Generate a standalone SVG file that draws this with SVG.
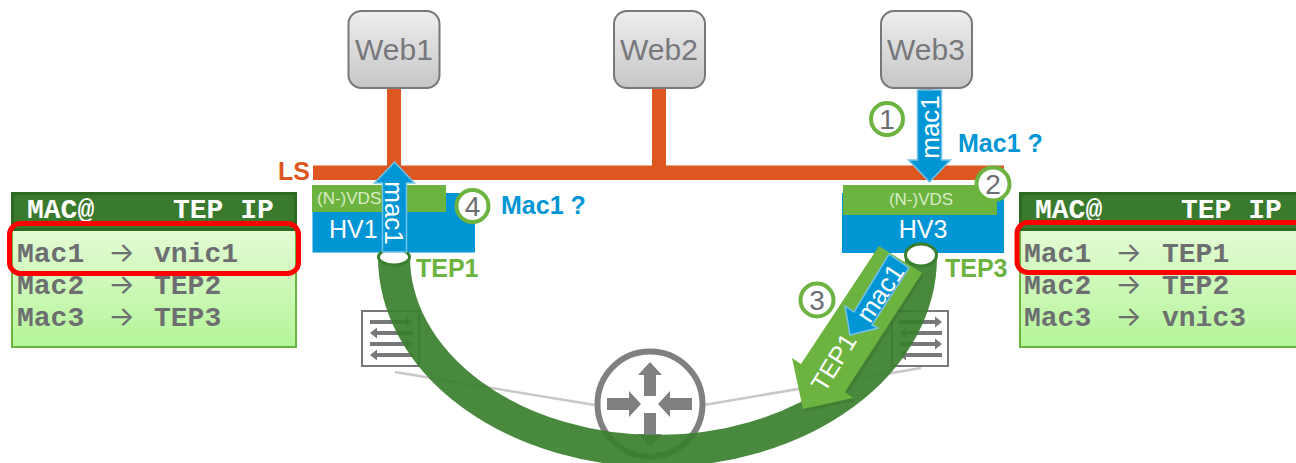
<svg xmlns="http://www.w3.org/2000/svg" width="1296" height="463" viewBox="0 0 1296 463">
<defs>
<linearGradient id="webG" x1="0" y1="0" x2="0" y2="1"><stop offset="0" stop-color="#eeeeee"/><stop offset="1" stop-color="#c6c6c8"/></linearGradient>
<linearGradient id="tblG" x1="0" y1="0" x2="0" y2="1"><stop offset="0" stop-color="#e6fbd8"/><stop offset="1" stop-color="#b4f598"/></linearGradient>
<g id="swGlyph" fill="#77787b">
<path d="M0 0h36v-3.500l7 5.500-7 5.500v-3.500H0z" transform="translate(0,320)"/>
<path d="M43 0H7v-3.500l-7 5.500 7 5.500v-3.500h36z" transform="translate(0,331)"/>
<path d="M0 0h36v-3.500l7 5.500-7 5.500v-3.500H0z" transform="translate(0,342)"/>
<path d="M43 0H7v-3.500l-7 5.500 7 5.500v-3.500h36z" transform="translate(0,353)"/>
</g>
</defs>
<style>
text{font-family:"Liberation Sans",Arial,sans-serif}
.web{fill:url(#webG);stroke:#77787b;stroke-width:2}
.webt{font-size:30px;fill:#77787b;text-anchor:middle}
.ls{fill:#dc5820}
.blue{fill:#0096d6}
.vds{fill:#6db33f}
.lab{font-weight:bold;font-size:25px}
.w{fill:#fff}
.pkt{fill:#0096d6;stroke:#74c3e6;stroke-width:1.500}
.badge{fill:#fff;stroke:#6db33f;stroke-width:4}
.num{font-size:28px;fill:#6d6e71;text-anchor:middle}
.body{fill:url(#tblG);stroke:#6db33f;stroke-width:2}
.head{fill:#3a7a2c;stroke:#2d6a22;stroke-width:3}
.mono{font-family:"Liberation Mono","Courier New",monospace;font-weight:bold;font-size:28px}
.mono.h{fill:#fff}
.mono.r{fill:#6d6e71}
.arr{font-family:Inter,"DejaVu Sans",sans-serif;font-size:28px;fill:#6d6e71;text-anchor:middle}
.red{fill:none;stroke:#fe0000;stroke-width:5}
.gl{stroke:#c8c8c8;stroke-width:2.500;fill:none}
.sw{fill:#fff;stroke:#77787b;stroke-width:2}
.rt{fill:#808080}
</style>

<g id="connectors">
<path class="gl" d="M395 372L595 405M704 405L921 368"/>
<rect class="ls" x="387" y="88" width="14" height="80"/>
<rect class="ls" x="652" y="88" width="14" height="80"/>
<rect class="ls" x="919" y="88" width="14" height="80"/>
<rect class="ls" x="313" y="165.500" width="691" height="14.500"/>
</g>

<g id="web1"><rect class="web" x="348.500" y="11" width="91" height="77" rx="13"/><text class="webt" x="394" y="60">Web1</text></g>
<g id="web2"><rect class="web" x="614" y="11" width="91" height="77" rx="13"/><text class="webt" x="659" y="60">Web2</text></g>
<g id="web3"><rect class="web" x="881" y="11" width="91" height="77" rx="13"/><text class="webt" x="926" y="60">Web3</text></g>

<g id="ls-label"><text class="lab" x="278" y="180" fill="#dc5820">LS</text></g>

<g id="switch1"><rect class="sw" x="362" y="311" width="57" height="55"/><use href="#swGlyph" x="370"/></g>
<g id="switch3"><rect class="sw" x="892" y="311" width="56" height="55"/><use href="#swGlyph" x="899"/></g>

<g id="router">
<circle cx="650" cy="404" r="52.500" fill="#fff" stroke="#808080" stroke-width="6"/>
<path class="rt" d="M650 362l12 13h-6v21h-12v-21h-6z"/>
<path class="rt" d="M650 447l12-13h-6v-21h-12v21h-6z"/>
<path class="rt" d="M641 404l-12-13v7h-22v12h22v7z"/>
<path class="rt" d="M658 404l12-13v7h22v12h-22v7z"/>
</g>

<g id="hv1">
<rect class="blue" x="312.500" y="193" width="162.500" height="59.500"/>
<rect class="vds" x="312" y="185" width="134" height="27"/>
<text x="317" y="204" font-size="17" fill="#d8ecc8">(N-)VDS</text>
<text x="329" y="238" font-size="25" class="w">HV1</text>
</g>
<g id="hv3">
<rect class="blue" x="842" y="193" width="162" height="60"/>
<rect class="vds" x="843" y="185" width="154" height="30"/>
<text x="921" y="205" font-size="17" fill="#d8ecc8" text-anchor="middle">(N-)VDS</text>
<text x="923" y="238" font-size="25" class="w" text-anchor="middle">HV3</text>
</g>

<g id="tunnel">
<path d="M394 257A263.500 194 0 0 0 921 257" fill="none" stroke="#3a7f2e" stroke-opacity="0.92" stroke-width="32"/>
<ellipse cx="394" cy="257" rx="15.500" ry="8" fill="#fff" stroke="#3a7f2e" stroke-width="3"/>
<ellipse cx="921" cy="255" rx="15.500" ry="11" fill="#fff" stroke="#3a7f2e" stroke-width="3"/>
</g>

<g id="tep-labels">
<text class="lab" x="416" y="277" fill="#6db33f">TEP1</text>
<text class="lab" x="945" y="277" fill="#6db33f">TEP3</text>
</g>

<g id="packet-web3">
<path class="pkt" d="M917.500 90h24v70h9l-21 22-21-22h9z"/>
<text class="w" x="0" y="0" font-size="26" text-anchor="middle" transform="translate(939,127) rotate(-90)">mac1</text>
</g>
<g id="packet-hv1">
<path class="pkt" d="M382.500 252v-69h-8l20-21 20 21h-8v69z"/>
<text class="w" x="0" y="0" font-size="26" text-anchor="middle" transform="translate(385,213) rotate(90)">mac1</text>
</g>
<g id="packet-tep1">
<path fill="#2d6a22" d="M881 249L924 276L847 395L855 401L805 412L794 361L803 367z" opacity=".3"/>
<path class="vds" d="M879 246L922 273L845 392L853 398L803 409L792 358L801 364z"/>
<text class="w" x="0" y="0" font-size="25" text-anchor="middle" transform="translate(841,367) rotate(-58)">TEP1</text>
<path class="pkt" d="M889 254L909 268L872 325L878 328L850 335L845 306L854 312z"/>
<text class="w" x="0" y="0" font-size="26" text-anchor="middle" transform="translate(887.500,298) rotate(-56)">mac1</text>
</g>

<g id="badge1"><circle class="badge" cx="887" cy="119" r="16"/><text class="num" x="887" y="129">1</text></g>
<g id="badge2"><circle class="badge" cx="993" cy="184" r="16.500"/><text class="num" x="993" y="194">2</text></g>
<g id="badge3"><circle class="badge" cx="817" cy="300" r="16.500"/><text class="num" x="817" y="310">3</text></g>
<g id="badge4"><circle class="badge" cx="472.500" cy="206" r="16"/><text class="num" x="472.500" y="216">4</text></g>

<g id="query-labels">
<text class="lab" x="501" y="214" fill="#0096d6">Mac1 ?</text>
<text class="lab" x="958" y="152" fill="#0096d6">Mac1 ?</text>
</g>

<g id="table-left">
<rect class="body" x="12" y="225" width="284" height="122"/>
<rect class="head" x="12.500" y="193.500" width="283" height="36"/>
<text class="mono h" x="27" y="218">MAC@</text>
<text class="mono h" x="173" y="218">TEP IP</text>
<text class="mono r" x="17" y="262">Mac1</text><text class="arr" x="121.500" y="262">→</text><text class="mono r" x="154" y="262">vnic1</text>
<text class="mono r" x="17" y="294">Mac2</text><text class="arr" x="121.500" y="294">→</text><text class="mono r" x="154" y="294">TEP2</text>
<text class="mono r" x="17" y="326">Mac3</text><text class="arr" x="121.500" y="326">→</text><text class="mono r" x="154" y="326">TEP3</text>
<rect class="red" x="9.500" y="223.500" width="289" height="50" rx="11"/>
</g>
<g id="table-right">
<rect class="body" x="1020" y="225" width="290" height="122"/>
<rect class="head" x="1020.500" y="193.500" width="290" height="36"/>
<text class="mono h" x="1035" y="218">MAC@</text>
<text class="mono h" x="1181" y="218">TEP IP</text>
<text class="mono r" x="1024" y="262">Mac1</text><text class="arr" x="1128.500" y="262">→</text><text class="mono r" x="1162" y="262">TEP1</text>
<text class="mono r" x="1024" y="294">Mac2</text><text class="arr" x="1128.500" y="294">→</text><text class="mono r" x="1162" y="294">TEP2</text>
<text class="mono r" x="1024" y="326">Mac3</text><text class="arr" x="1128.500" y="326">→</text><text class="mono r" x="1162" y="326">vnic3</text>
<rect class="red" x="1017" y="222.500" width="300" height="50" rx="11"/>
</g>
</svg>
